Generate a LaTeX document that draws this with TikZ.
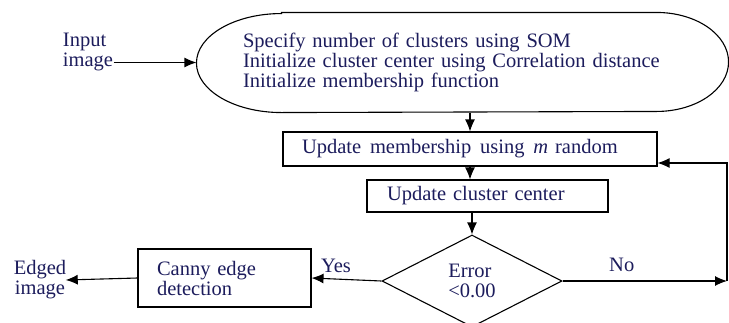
\documentclass[tikz,border=0pt]{standalone}
\usepackage{fontspec}
\setmainfont{Liberation Serif}
\usetikzlibrary{arrows.meta,shapes,calc}
\definecolor{inkblue}{RGB}{28,28,92}
\tikzset{every picture/.style={/utils/exec={\fontsize{20.5}{20}\selectfont}}}

\begin{document}
\begin{tikzpicture}[x=1pt, y=-1pt, line width=1.1pt, >={Latex[length=12pt,width=10pt]},
    box/.style={draw, rectangle, align=left, text=inkblue, inner ysep=0pt},
    lbl/.style={text=inkblue, inner sep=0pt}]
    \useasboundingbox (0,0) rectangle (729,322);
    \node [lbl, align=left] (inp) at (88,52) {Input\\image};
    \node [lbl, align=left, text width=439pt, inner xsep=46pt, minimum height=99pt] (init) at (462.5,62.5)
        {Specify number of clusters using SOM\\Initialize cluster center using Correlation distance\\Initialize membership function};
    \draw ([xshift=85pt]init.north west) -- ([xshift=-72pt]init.north east)
        arc [start angle=90, end angle=-90, x radius=72pt, y radius=49.5pt]
        -- ([xshift=85pt]init.south west)
        arc [start angle=270, end angle=90, x radius=85pt, y radius=49.5pt] -- cycle;
    \node [box, text width=336pt, inner xsep=19pt, minimum height=34pt] (upd) at (470,149)
        {Update\hspace{2pt} membership\hspace{2pt} using\hspace{2pt} \textit{m} random};
    \node [box, text width=201pt, inner xsep=20pt, minimum height=32pt] (cent) at (487.5,196) {Update cluster center};
    \node [draw, diamond, minimum width=180pt, minimum height=92pt, inner sep=0pt, align=left, text=inkblue] (dec) at (472,281) {Error\\<0.00};
    \node [box, text width=135pt, inner xsep=19pt, minimum height=58pt] (canny) at (224.5,278) {Canny edge\\detection};
    \node [lbl, align=center] (edged) at (40,280) {Edged\\image};
    \coordinate (back) at (727,281);
    \coordinate (upd-in) at ([yshift=-14pt]upd.east);
    \draw [->] (inp.east |- init.west) -- (init.west);
    \draw [->] (upd.north |- init.south) -- (upd.north);
    \draw [->] (upd.south) -- (upd.south |- cent.north);
    \draw [->] (dec.north |- cent.south) -- (dec.north);
    \draw [->] (dec.west) -- node [lbl, pos=0.65, above=6pt] {Yes} (canny.east);
    \draw [->] (dec.east) -- node [lbl, pos=0.36, above=9pt] {No} (back);
    \draw [->] (back) -- (back |- upd-in) -- (upd-in);
    \draw [->] (canny.west) -- ([xshift=-1pt]edged.east);
\end{tikzpicture}
\end{document}
